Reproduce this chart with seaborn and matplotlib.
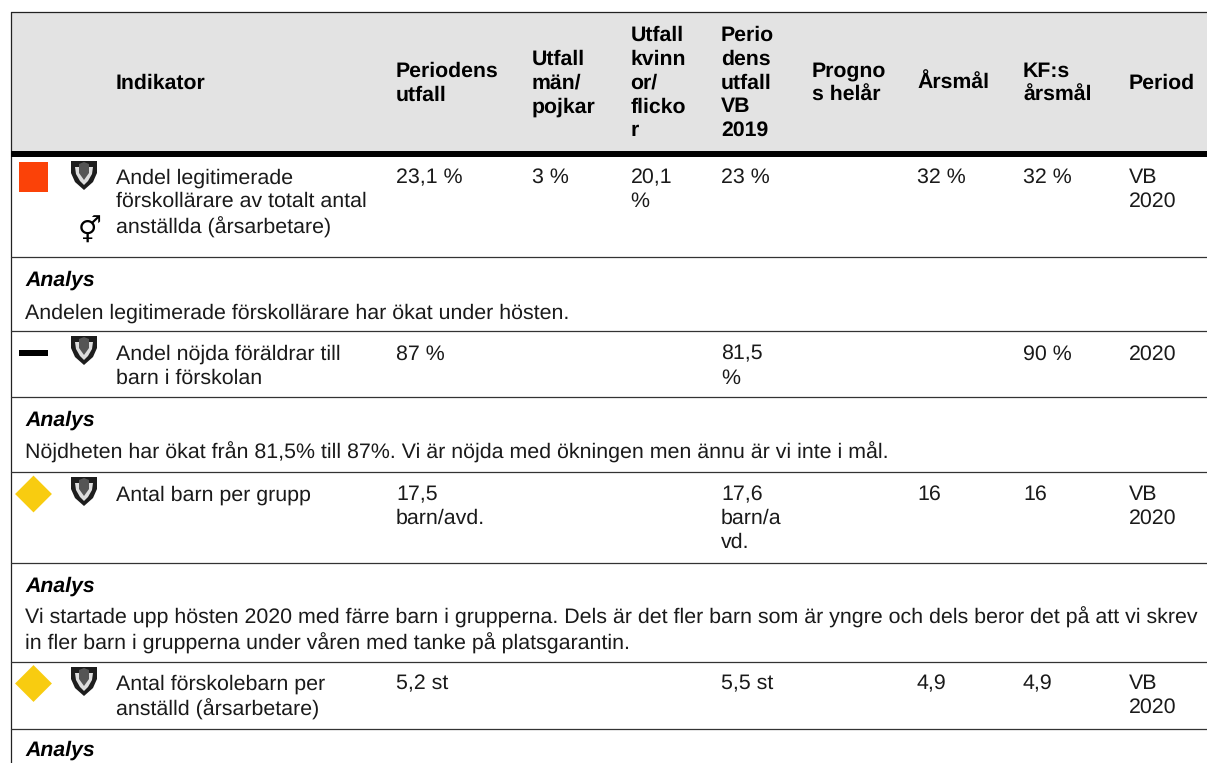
import matplotlib
matplotlib.use("Agg")
import matplotlib.pyplot as plt
from matplotlib.patches import Rectangle, Polygon
import seaborn as sns
import pandas as pd

sns.set_theme(style="white")
plt.rcParams['font.family'] = ['Liberation Sans', 'DejaVu Sans']
plt.rcParams['text.hinting'] = 'no_hinting'

W, H = 1207, 763
FS = 15.36
FS_BOLD = 15.3
LS = 1.285
TEXT = "#1a1a1a"

col_x = [116, 396, 532, 630.5, 721, 812, 917, 1023, 1129]
headers = ["Indikator", "Periodens\nutfall", "Utfall\nmän/\npojkar", "Utfall\nkvinn\nor/\nflicko\nr",
           "Perio\ndens\nutfall\nVB\n2019", "Progno\ns helår", "Årsmål", "KF:s\nårsmål", "Period"]

rows = [
    ["Andel legitimerade\nförskollärare av totalt antal\nanställda (årsarbetare)", "23,1 %", "3 %", "20,1\n%", "23 %", "", "32 %", "32 %", "VB\n2020"],
    ["Andel nöjda föräldrar till\nbarn i förskolan", "87 %", "", "", "81,5\n%", "", "", "90 %", "2020"],
    ["Antal barn per grupp", "17,5\nbarn/avd.", "", "", "17,6\nbarn/a\nvd.", "", "16", "16", "VB\n2020"],
    ["Antal förskolebarn per\nanställd (årsarbetare)", "5,2 st", "", "", "5,5 st", "", "4,9", "4,9", "VB\n2020"],
]
row_text_top = [168, 344.5, 485, 674]
analyses = [
    "Andelen legitimerade förskollärare har ökat under hösten.",
    "Nöjdheten har ökat från 81,5% till 87%. Vi är nöjda med ökningen men ännu är vi inte i mål.",
    "Vi startade upp hösten 2020 med färre barn i grupperna. Dels är det fler barn som är yngre och dels beror det på att vi skrev\nin fler barn i grupperna under våren med tanke på platsgarantin.",
    "",
]
analys_y = [286, 426, 591.5, 756]
analys_text_y = [318.5, 459, 650, None]
rule_y = [256.5, 330.5, 397, 471.5, 563, 662, 728.5]

status = pd.DataFrame({
    "x": [33.5, 33.5, 33.5, 33.5],
    "y": [177, 352.5, 494, 683.5],
    "state": ["röd", "streck", "gul", "gul"],
})
shield_y = [161, 336, 477, 667]

fig = plt.figure(figsize=(W / 100, H / 100), dpi=100)
ax = fig.add_axes([0, 0, 1, 1])
ax.set_xlim(0, W)
ax.set_ylim(H, 0)
ax.axis("off")

ax.add_patch(Rectangle((11, 12), W, 139, fc="#e3e3e3", ec="none", zorder=0))
ax.plot([10.5, W], [11.5, 11.5], color="#222222", lw=0.9)
ax.plot([10.5, 10.5], [11.5, H], color="#222222", lw=0.9)
ax.add_patch(Rectangle((11, 151), W, 6, fc="black", ec="none", zorder=2))
for y in rule_y:
    ax.plot([10.5, W], [y, y], color="#333333", lw=0.9)

for x, h in zip(col_x, headers):
    ax.text(x, 83, h, fontsize=FS_BOLD, fontweight="bold", color="black", va="center", ha="left", linespacing=LS)

for top, row in zip(row_text_top, rows):
    for x, cell in zip(col_x, row):
        if cell:
            ax.text(x, top, cell, fontsize=FS, color=TEXT, va="top", ha="left", linespacing=LS)

for y, ty, txt in zip(analys_y, analys_text_y, analyses):
    ax.text(25, y, "Analys", fontsize=FS_BOLD, fontweight="bold", fontstyle="italic", color="black", va="baseline", ha="left")
    if txt:
        ax.text(25, ty, txt, fontsize=FS, color=TEXT, va="baseline", ha="left", linespacing=LS)

# status markers
sns.scatterplot(data=status[status.state == "röd"], x="x", y="y", marker="s", color="#fb4208", s=445,
                edgecolor="none", ax=ax, legend=False, zorder=3)
sns.scatterplot(data=status[status.state == "gul"], x="x", y="y", marker="D", color="#f8cc10", s=352,
                edgecolor="none", ax=ax, legend=False, zorder=3)
ax.add_patch(Rectangle((19, 349.5), 29, 6, fc="black", ec="none", zorder=3))
ax.set_xlim(0, W)
ax.set_ylim(H, 0)
ax.set_xlabel("")
ax.set_ylabel("")


def shield(y0):
    outer = [(71, 0), (97, 0), (97, 12), (93, 21), (84, 29), (75, 21), (71, 12)]
    inner = [(75, 6), (93, 6), (92, 13), (88, 20), (84, 24), (80, 20), (76, 13)]
    head = [(79, 3), (84, 1), (89, 3), (89, 12), (84, 19), (79, 12)]
    ax.add_patch(Polygon([(a, y0 + b) for a, b in outer], fc="#1d1d1d", ec="none", zorder=3))
    ax.add_patch(Polygon([(a, y0 + b) for a, b in inner], fc="#dddddd", ec="none", zorder=4))
    ax.add_patch(Polygon([(a, y0 + b) for a, b in head], fc="#555555", ec="none", zorder=5))


for y in shield_y:
    shield(y)
ax.text(90, 232, "\u26a5", fontsize=19, color="black", family="DejaVu Sans", ha="center", va="center")

fig.savefig("out.png", dpi=100)
